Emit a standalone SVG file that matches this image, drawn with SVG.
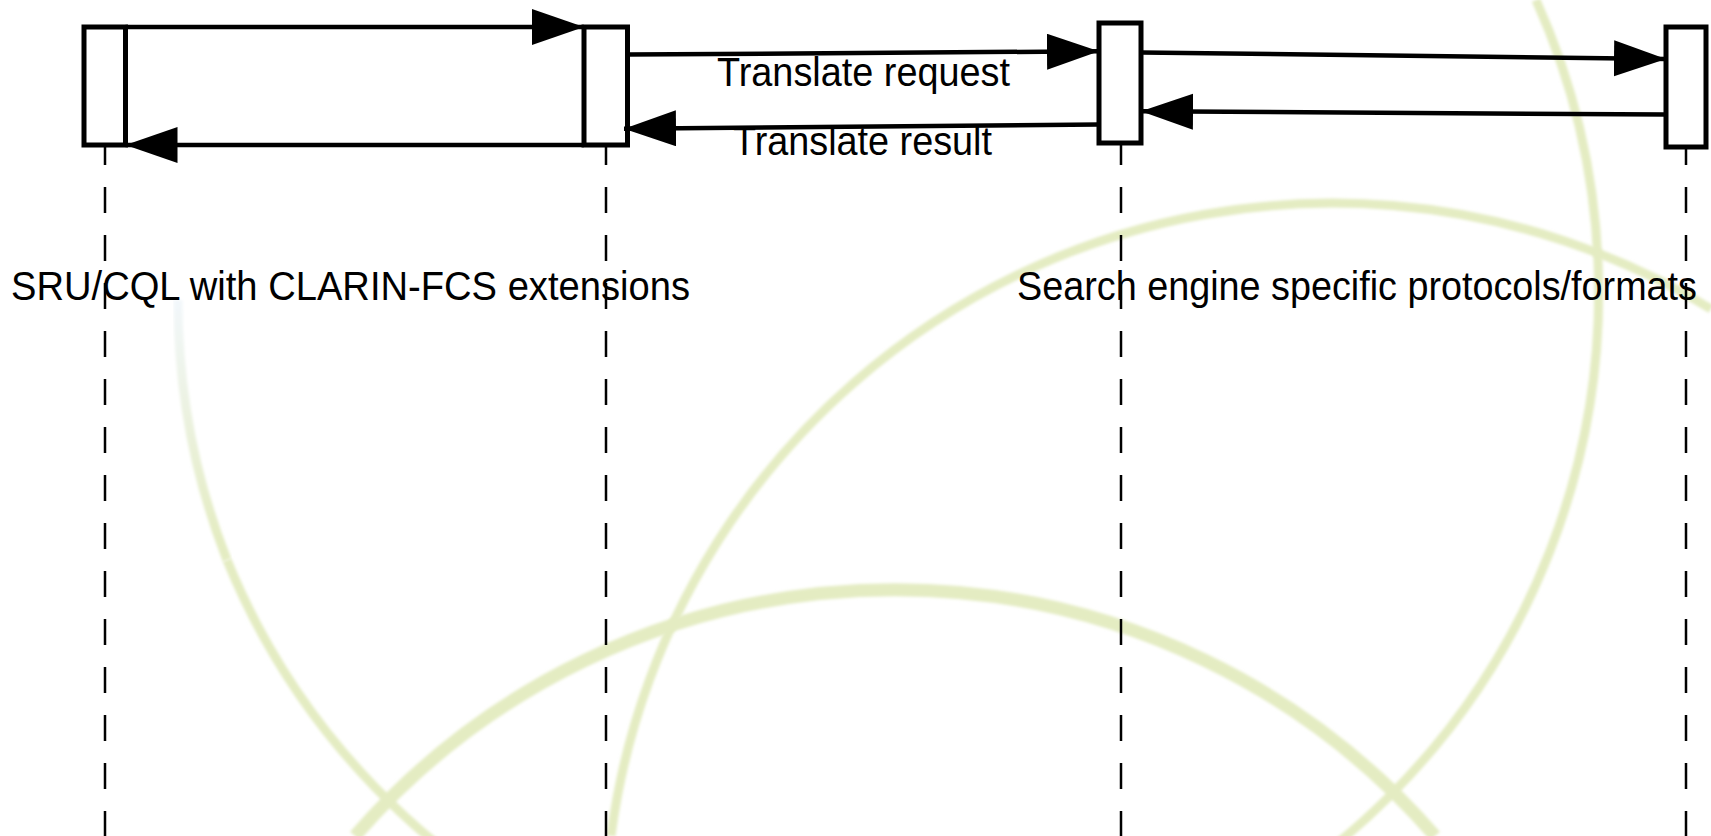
<svg xmlns="http://www.w3.org/2000/svg" width="1711" height="836" viewBox="0 0 1711 836">
<style>
.box{fill:#ffffff;stroke:#000000;stroke-width:5}
.life{fill:none;stroke:#000000;stroke-width:2.5;stroke-dasharray:26 22;stroke-dashoffset:6}
.msg{fill:none;stroke:#000000;stroke-width:4.5;marker-end:url(#head)}
.lbl{font-family:"Liberation Sans",Arial,Helvetica,sans-serif;font-size:40px;fill:#000000;text-anchor:middle}
.bg{fill:none;stroke:#e4ecc2;filter:url(#soft)}
</style>
<defs>
<marker id="head" markerUnits="userSpaceOnUse" markerWidth="54" markerHeight="38" refX="52" refY="18" orient="auto">
<path d="M0,0 L52,18 L0,36 Z" fill="#000000"/>
</marker>
<filter id="soft" x="-10%" y="-10%" width="120%" height="120%"><feGaussianBlur stdDeviation="1.6"/></filter>
<linearGradient id="fade" gradientUnits="userSpaceOnUse" x1="0" y1="300" x2="0" y2="540">
<stop offset="0" stop-color="#f2f7fb"/>
<stop offset="1" stop-color="#e4ecc2"/>
</linearGradient>
</defs>
<rect x="0" y="0" width="1711" height="836" fill="#ffffff"/>
<g id="background">
<path class="bg" stroke-width="9" d="M1536,0 A712,712 0 1 1 227,560"/>
<path fill="none" stroke="url(#fade)" stroke-width="9" filter="url(#soft)" d="M227,560 A712,712 0 0 1 178,300"/>
<path class="bg" stroke-width="9" d="M611,836 A728,728 0 0 1 1711,309"/>
<path class="bg" stroke-width="13" d="M355,836 A715,715 0 0 1 1435,836"/>
</g>
<g id="lifelines">
<line class="life" x1="105" y1="145" x2="105" y2="836"/>
<line class="life" x1="606" y1="145" x2="606" y2="836"/>
<line class="life" x1="1121" y1="145" x2="1121" y2="836"/>
<line class="life" x1="1686" y1="145" x2="1686" y2="836"/>
</g>
<g id="node-client"><rect class="box" x="84" y="27" width="41.5" height="118"/></g>
<g id="node-aggregator"><rect class="box" x="584" y="27" width="43.5" height="118"/></g>
<g id="node-endpoint"><rect class="box" x="1099" y="23" width="42" height="120"/></g>
<g id="node-engine"><rect class="box" x="1666" y="27" width="40" height="120"/></g>
<g id="connectors">
<line class="msg" x1="125.5" y1="27" x2="584" y2="27"/>
<line class="msg" x1="584" y1="145" x2="125.5" y2="145"/>
<line class="msg" x1="627.5" y1="54.6" x2="1099" y2="51.3"/>
<line class="msg" x1="1099" y1="124.4" x2="624" y2="128.8"/>
<line class="msg" x1="1141" y1="52.4" x2="1666" y2="58.9"/>
<line class="msg" x1="1666" y1="114.6" x2="1141" y2="111.3"/>
</g>
<g id="labels">
<text class="lbl" x="863.5" y="86" textLength="293" lengthAdjust="spacingAndGlyphs">Translate request</text>
<text class="lbl" x="862.5" y="155" textLength="259" lengthAdjust="spacingAndGlyphs">Translate result</text>
<text class="lbl" x="350.5" y="300" textLength="679" lengthAdjust="spacingAndGlyphs">SRU/CQL with CLARIN-FCS extensions</text>
<text class="lbl" x="1357" y="300" textLength="680" lengthAdjust="spacingAndGlyphs">Search engine specific protocols/formats</text>
</g>
</svg>
